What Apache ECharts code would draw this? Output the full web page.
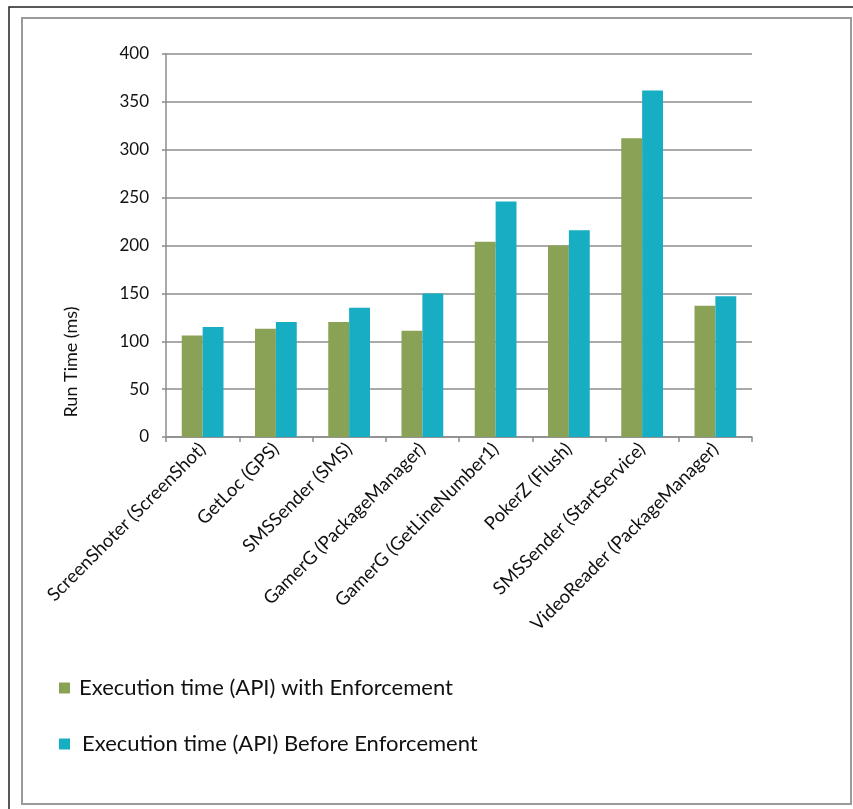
<!DOCTYPE html>
<html>
<head>
<meta charset="utf-8">
<script src="https://cdn.jsdelivr.net/npm/echarts@6/dist/echarts.min.js"></script>
<style>
  html, body { margin: 0; padding: 0; background: #fff; }
  #chart { width: 853px; height: 809px; }
</style>
</head>
<body>
<div id="chart"></div>
<script>
// Run time per app / API call, with and without enforcement
const categories = [
  'ScreenShoter (ScreenShot)',
  'GetLoc (GPS)',
  'SMSSender (SMS)',
  'GamerG (PackageManager)',
  'GamerG (GetLineNumber1)',
  'PokerZ (Flush)',
  'SMSSender (StartService)',
  'VideoReader (PackageManager)'
];
const withEnforcement = [106, 113, 120, 111, 204, 200, 312, 137];
const beforeEnforcement = [115, 120, 135, 150, 246, 216, 362, 147];
const seriesNames = [
  'Execution time (API) with Enforcement',
  'Execution time (API) Before Enforcement'
];
const yTicks = { min: 0, max: 400, interval: 50 };

const FONT = 'Lato, "Open Sans", sans-serif';
const chart = echarts.init(document.getElementById('chart'), null, { renderer: 'canvas' });

const legendBase = {
  orient: 'vertical',
  left: 59,
  itemWidth: 11,
  itemHeight: 11,
  icon: 'rect',
  padding: 0
};

chart.setOption({
  backgroundColor: '#ffffff',
  animation: false,
  color: ['#8aa256', '#17adc3'],
  grid: { left: 166, right: 101, top: 54, bottom: 372, containLabel: false },
  legend: [
    Object.assign({}, legendBase, {
      top: 677,
      textStyle: { fontFamily: FONT, fontSize: 22, color: '#111', padding: [0, 0, 0, 4] },
      data: [seriesNames[0]]
    }),
    Object.assign({}, legendBase, {
      top: 733,
      textStyle: { fontFamily: FONT, fontSize: 22, color: '#111', padding: [0, 0, 0, 7] },
      data: [seriesNames[1]]
    })
  ],
  xAxis: {
    type: 'category',
    data: categories,
    axisLine: { lineStyle: { color: '#8c8c8c', width: 1.5 } },
    axisTick: { show: true, length: 5, lineStyle: { color: '#8c8c8c', width: 1.5 } },
    axisLabel: {
      interval: 0,
      rotate: 45,
      margin: 9,
      fontFamily: FONT,
      fontSize: 18.5,
      color: '#111'
    }
  },
  yAxis: {
    type: 'value',
    min: yTicks.min,
    max: yTicks.max,
    interval: yTicks.interval,
    axisLine: { show: true, lineStyle: { color: '#8c8c8c', width: 1.5 } },
    axisTick: { show: true, length: 4, lineStyle: { color: '#8c8c8c', width: 1.5 } },
    splitLine: { show: true, lineStyle: { color: '#8c8c8c', width: 1.5 } },
    axisLabel: { margin: 17, fontFamily: FONT, fontSize: 17, color: '#111' }
  },
  series: [
    {
      name: seriesNames[0],
      type: 'bar',
      data: withEnforcement,
      barGap: '0%',
      barCategoryGap: '43%'
    },
    {
      name: seriesNames[1],
      type: 'bar',
      data: beforeEnforcement,
      barGap: '0%',
      barCategoryGap: '43%'
    }
  ],
  graphic: [
    {
      type: 'rect',
      silent: true,
      shape: { x: 22, y: 18, width: 829, height: 786 },
      style: { fill: 'none', stroke: '#9a9a9a', lineWidth: 2 }
    },
    {
      type: 'polyline',
      silent: true,
      shape: { points: [[9, 809], [9, 7], [853, 7]] },
      style: { fill: 'none', stroke: '#222', lineWidth: 1.5 }
    },
    {
      type: 'text',
      silent: true,
      x: 71,
      y: 362,
      rotation: Math.PI / 2,
      style: {
        text: 'Run Time (ms)',
        fontFamily: FONT,
        fontSize: 18,
        fill: '#111',
        align: 'center',
        verticalAlign: 'middle'
      }
    }
  ]
});
</script>
</body>
</html>
